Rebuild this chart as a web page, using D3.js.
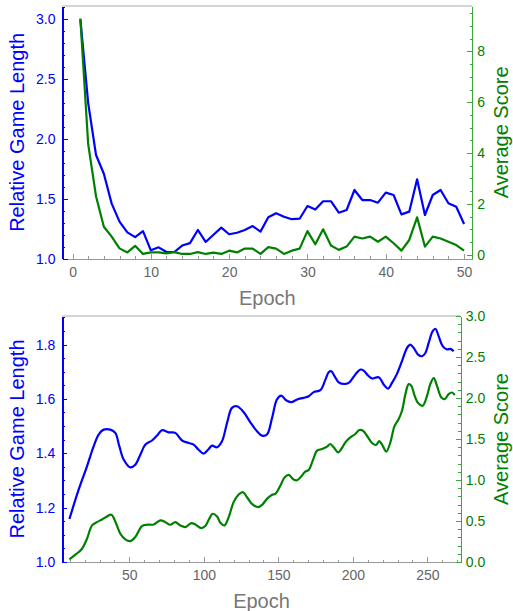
<!DOCTYPE html>
<html><head><meta charset="utf-8">
<script src="https://cdn.jsdelivr.net/npm/d3@7"></script>
<style>body{margin:0;background:#fff}svg{display:block;font-family:"Liberation Sans",Arial,sans-serif}</style>
</head><body>
<svg id="c" width="513" height="611"></svg>
<script>
// ---------- Top panel data (epochs 1..50) ----------
const topEpochs = [1,2,3,4,5,6,7,8,9,10,11,12,13,14,15,16,17,18,19,20,21,22,23,24,25,26,27,28,29,30,31,32,33,34,35,36,37,38,39,40,41,42,43,44,45,46,47,48,49,50];
const topLength = [3.0,2.30,1.866,1.71,1.46,1.31,1.22,1.18,1.23,1.07,1.095,1.056,1.056,1.11,1.13,1.24,1.14,1.20,1.26,1.204,1.217,1.24,1.273,1.226,1.346,1.38,1.35,1.33,1.334,1.44,1.41,1.48,1.48,1.384,1.407,1.574,1.49,1.49,1.468,1.552,1.532,1.37,1.393,1.663,1.365,1.532,1.574,1.463,1.434,1.29];
const topScore = [9.3,4.35,2.3,1.1,0.71,0.25,0.09,0.35,0.03,0.09,0.09,0.05,0.1,0.03,0.03,0.1,0.03,0.08,0.03,0.16,0.09,0.24,0.24,0.03,0.30,0.24,0.03,0.16,0.24,0.93,0.41,1.0,0.36,0.19,0.32,0.71,0.64,0.71,0.51,0.71,0.45,0.16,0.58,1.47,0.32,0.71,0.64,0.51,0.38,0.16];
const topXTicks = [0,10,20,30,40,50];
const topLeftTicks = [1.0,1.5,2.0,2.5,3.0];
const topRightTicks = [0,2,4,6,8];

// ---------- Bottom panel data (smoothed curves) ----------
const botLenEpochs = [9.8,16.0,21.6,26.1,29.4,32.8,37.3,40.6,43.3,46.2,50.7,54.0,57.4,60.8,65.2,68.6,72.0,76.4,80.9,85.4,89.8,93.2,96.5,99.9,103.3,105.5,108.9,112.2,115.6,118.9,122.3,126.8,131.2,135.7,139.1,142.4,145.8,149.1,152.0,155.2,158.7,162.6,167.0,170.4,173.7,178.2,181.6,183.8,185.6,187.8,190.5,195.0,197.7,201.7,205.1,207.3,210.2,212.9,217.4,220.7,223.6,226.3,229.7,233.0,236.4,238.6,240.8,243.8,246.4,248.7,250.9,253.6,255.4,257.6,260.3,263.2,265.5,267.7];
const botLength = [1.158,1.266,1.352,1.426,1.469,1.487,1.487,1.475,1.426,1.377,1.348,1.358,1.395,1.432,1.447,1.465,1.485,1.477,1.475,1.447,1.438,1.432,1.413,1.399,1.416,1.428,1.422,1.444,1.512,1.567,1.573,1.551,1.514,1.481,1.465,1.469,1.530,1.598,1.612,1.595,1.588,1.598,1.604,1.610,1.625,1.632,1.671,1.698,1.702,1.683,1.661,1.655,1.661,1.690,1.708,1.704,1.686,1.675,1.680,1.653,1.638,1.659,1.693,1.739,1.788,1.800,1.788,1.763,1.757,1.769,1.806,1.849,1.858,1.831,1.794,1.782,1.784,1.775];
const botScoreEpochs = [9.8,13.8,18.3,21.6,25.0,28.3,31.7,35.0,37.9,40.6,44.0,47.3,50.7,54.0,58.5,61.9,66.4,70.8,74.2,77.5,80.9,84.2,87.6,91.6,94.3,98.3,101.0,103.3,105.9,108.9,111.1,113.8,116.7,120.0,123.4,126.3,129.0,132.3,136.4,139.1,142.4,145.8,148.0,151.4,154.3,157.0,160.3,162.6,165.5,168.1,170.4,173.1,176.0,179.3,182.7,184.9,187.2,190.1,192.7,195.0,198.3,201.7,204.4,206.8,209.5,212.9,215.6,217.8,220.0,222.5,225.2,227.9,230.8,233.0,235.3,237.5,239.3,241.5,243.8,246.9,249.8,252.0,254.3,256.5,259.4,261.7,264.3,266.6,268.4];
const botScore = [0.032,0.089,0.162,0.284,0.446,0.486,0.519,0.555,0.576,0.495,0.345,0.276,0.255,0.304,0.438,0.454,0.458,0.507,0.486,0.454,0.486,0.446,0.426,0.474,0.458,0.413,0.438,0.515,0.588,0.555,0.478,0.446,0.547,0.730,0.823,0.851,0.790,0.709,0.669,0.697,0.770,0.819,0.831,0.932,1.034,1.062,1.005,0.997,1.046,1.103,1.123,1.236,1.358,1.378,1.407,1.439,1.398,1.338,1.390,1.459,1.520,1.561,1.609,1.601,1.540,1.451,1.427,1.475,1.419,1.346,1.459,1.654,1.743,1.844,2.047,2.169,2.148,2.027,1.938,1.905,2.027,2.169,2.242,2.148,2.006,1.986,2.047,2.067,2.035];
const botXTicks = [50,100,150,200,250];
const botLeftTicks = [1.0,1.2,1.4,1.6,1.8];
const botRightTicks = [0.0,0.5,1.0,1.5,2.0,2.5,3.0];

const BLUE = "#0000ff", GREEN = "#008000", AXGREEN = "#3aa83a", GRAY = "#666666";
const svg = d3.select("#c");

function panel(o) {
  const g = svg.append("g");
  const x = d3.scaleLinear().domain(o.xDom).range([o.left, o.right]);
  const yL = d3.scaleLinear().domain(o.yLDom).range([o.bottom, o.top]);
  const yR = d3.scaleLinear().domain(o.yRDom).range([o.bottom, o.top]);

  // frame top
  g.append("line").attr("x1", o.left).attr("x2", o.right).attr("y1", o.top).attr("y2", o.top)
    .attr("stroke", "#aaaaaa").attr("stroke-width", 1);

  // bottom axis
  const minorX = d3.axisBottom(x).tickValues(o.xMinor).tickSize(-2.5).tickFormat("").tickSizeOuter(0);
  const gxm = g.append("g").attr("transform", `translate(0,${o.bottom})`).call(minorX);
  const majorX = d3.axisBottom(x).tickValues(o.xTicks).tickSize(-5).tickPadding(8).tickSizeOuter(0).tickFormat(d3.format("d"));
  const gx = g.append("g").attr("transform", `translate(0,${o.bottom})`).call(majorX);
  [gx, gxm].forEach(a => { a.select(".domain").attr("stroke", "#999").attr("stroke-width", 1); a.selectAll(".tick line").attr("stroke", "#999"); });
  gx.selectAll("text").attr("fill", GRAY).style("font-size", "14px");

  // left axis
  const minorL = d3.axisLeft(yL).tickValues(o.yLMinor).tickSize(-2.5).tickFormat("").tickSizeOuter(0);
  const glm = g.append("g").attr("transform", `translate(${o.left},0)`).call(minorL);
  const majorL = d3.axisLeft(yL).tickValues(o.yLTicks).tickSize(-5).tickPadding(7).tickSizeOuter(0).tickFormat(d3.format(".1f"));
  const gl = g.append("g").attr("transform", `translate(${o.left},0)`).call(majorL);
  [gl, glm].forEach(a => { a.select(".domain").attr("stroke", BLUE).attr("stroke-width", 1.5); a.selectAll(".tick line").attr("stroke", BLUE); });
  gl.selectAll("text").attr("fill", BLUE).style("font-size", "14px");

  // right axis
  const minorR = d3.axisRight(yR).tickValues(o.yRMinor).tickSize(-2.5).tickFormat("").tickSizeOuter(0);
  const grm = g.append("g").attr("transform", `translate(${o.right},0)`).call(minorR);
  const majorR = d3.axisRight(yR).tickValues(o.yRTicks).tickSize(-5).tickPadding(5).tickSizeOuter(0).tickFormat(o.yRFmt);
  const gr = g.append("g").attr("transform", `translate(${o.right},0)`).call(majorR);
  [gr, grm].forEach(a => { a.select(".domain").attr("stroke", AXGREEN).attr("stroke-width", 1); a.selectAll(".tick line").attr("stroke", AXGREEN); });
  gr.selectAll("text").attr("fill", GREEN).style("font-size", "14px");
  g.selectAll(".tick text").attr("font-family", null);
  g.selectAll(".domain, .tick line").attr("shape-rendering", "crispEdges");

  // lines
  const lenLine = d3.line().x((d, i) => x(o.lenX[i])).y(d => yL(d)).curve(o.curve);
  const scLine = d3.line().x((d, i) => x(o.scX[i])).y(d => yR(d)).curve(o.curve);
  g.append("path").datum(o.len).attr("d", lenLine).attr("fill", "none").attr("stroke", BLUE)
    .attr("stroke-width", 2.2).attr("stroke-linejoin", "round");
  g.append("path").datum(o.sc).attr("d", scLine).attr("fill", "none").attr("stroke", GREEN)
    .attr("stroke-width", 2.2).attr("stroke-linejoin", "round");

  // axis titles
  const midY = (o.top + o.bottom) / 2;
  g.append("text").attr("transform", `translate(24,${midY}) rotate(-90)`).attr("text-anchor", "middle")
    .attr("fill", BLUE).style("font-size", "20px").text("Relative Game Length");
  g.append("text").attr("transform", `translate(508,${midY}) rotate(-90)`).attr("text-anchor", "middle")
    .attr("fill", GREEN).style("font-size", "20px").text("Average Score");
  g.append("text").attr("x", (o.left + o.right) / 2).attr("y", o.bottom + 46).attr("text-anchor", "middle")
    .attr("fill", "#777").style("font-size", "20px").text("Epoch");
}

panel({
  left: 62.5, right: 472.3, top: 6, bottom: 258.7,
  xDom: [-1.28, 51.05], yLDom: [1, 3.111], yRDom: [-0.157, 9.79],
  xTicks: topXTicks, xMinor: d3.range(0, 51, 2),
  yLTicks: topLeftTicks, yLMinor: d3.range(10, 32, 1).map(v => v / 10),
  yRTicks: topRightTicks, yRMinor: d3.range(0, 20, 1).map(v => v / 2), yRFmt: d3.format("d"),
  lenX: topEpochs, len: topLength, scX: topEpochs, sc: topScore, curve: d3.curveLinear
});

panel({
  left: 62.3, right: 460.7, top: 316, bottom: 562,
  xDom: [5.03, 272.4], yLDom: [1, 1.905], yRDom: [0, 3],
  xTicks: botXTicks, xMinor: d3.range(10, 271, 10),
  yLTicks: botLeftTicks, yLMinor: d3.range(20, 39, 1).map(v => v / 20),
  yRTicks: botRightTicks, yRMinor: d3.range(0, 31, 1).map(v => v / 10), yRFmt: d3.format(".1f"),
  lenX: botLenEpochs, len: botLength, scX: botScoreEpochs, sc: botScore, curve: d3.curveCatmullRom
});
</script>
</body></html>
